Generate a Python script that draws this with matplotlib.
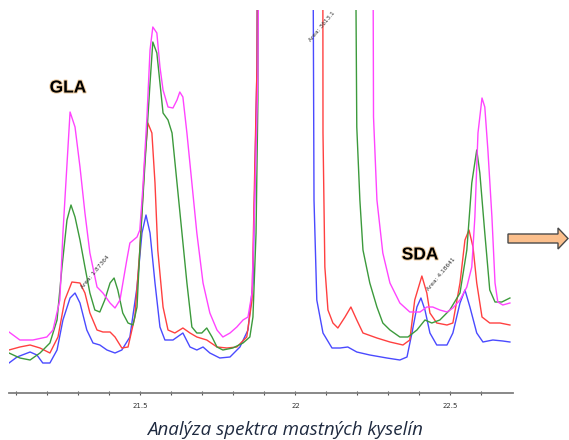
## Chromatogram overlay of four samples (GLA / SDA region)
import matplotlib
matplotlib.use("Agg")
import matplotlib.pyplot as plt
import matplotlib.patheffects as pe
from matplotlib.patches import FancyArrow

# retention time (min) and detector signal
magenta_x = [21.076, 21.111, 21.153, 21.198, 21.218, 21.240, 21.250, 21.273, 21.289, 21.305, 21.321, 21.337,
             21.360, 21.379, 21.402, 21.418, 21.434, 21.456, 21.466, 21.489, 21.498, 21.508, 21.521, 21.531,
             21.540, 21.553, 21.563, 21.573, 21.589, 21.605, 21.618, 21.627, 21.637, 21.650, 21.666, 21.682,
             21.702, 21.724, 21.747, 21.766, 21.789, 21.811, 21.831, 21.847, 21.860, 21.869, 21.879, 21.885,
             22.249, 22.252, 22.263, 22.282, 22.305, 22.337, 22.369, 22.402, 22.424, 22.443, 22.466, 22.489,
             22.508, 22.531, 22.553, 22.569, 22.579, 22.589, 22.602, 22.611, 22.621, 22.634, 22.644, 22.653,
             22.669, 22.692]
magenta_y = [61, 53, 53, 56, 63, 93, 160, 281, 266, 226, 180, 140,
             106, 100, 90, 85, 93, 133, 150, 156, 163, 206, 276, 343,
             366, 360, 326, 303, 286, 285, 293, 301, 296, 260, 210, 160,
             110, 80, 63, 56, 60, 66, 73, 76, 100, 193, 316, 600,
             600, 276, 193, 140, 110, 90, 81, 81, 86, 86, 83, 81,
             85, 93, 106, 126, 176, 260, 295, 286, 243, 176, 110, 91,
             88, 90]

green_x = [21.076, 21.111, 21.144, 21.176, 21.208, 21.231, 21.247, 21.263, 21.276, 21.289, 21.305, 21.321,
           21.337, 21.353, 21.369, 21.385, 21.402, 21.415, 21.427, 21.443, 21.460, 21.476, 21.489, 21.498,
           21.514, 21.531, 21.540, 21.553, 21.563, 21.573, 21.589, 21.602, 21.618, 21.634, 21.650, 21.666,
           21.682, 21.698, 21.714, 21.731, 21.747, 21.766, 21.798, 21.831, 21.853, 21.863, 21.873, 21.879,
           21.882, 22.191, 22.198, 22.208, 22.218, 22.240, 22.263, 22.282, 22.305, 22.337, 22.363, 22.392,
           22.418, 22.440, 22.466, 22.498, 22.531, 22.553, 22.569, 22.585, 22.595, 22.611, 22.627, 22.644,
           22.666, 22.692]
green_y = [40, 35, 33, 40, 50, 73, 126, 173, 188, 176, 153, 126,
           100, 83, 81, 93, 110, 115, 103, 80, 70, 68, 86, 143,
           226, 310, 351, 340, 310, 280, 273, 260, 210, 160, 110, 66,
           60, 60, 65, 56, 46, 43, 45, 50, 56, 76, 160, 293,
           600, 600, 266, 193, 143, 110, 86, 70, 63, 56, 56, 63,
           73, 70, 73, 83, 100, 143, 210, 243, 220, 160, 103, 91,
           91, 95]

red_x = [21.076, 21.111, 21.144, 21.176, 21.208, 21.234, 21.256, 21.279, 21.305, 21.321, 21.337, 21.360,
         21.379, 21.402, 21.418, 21.440, 21.460, 21.482, 21.498, 21.514, 21.524, 21.537, 21.547, 21.556,
         21.573, 21.589, 21.611, 21.637, 21.660, 21.682, 21.714, 21.747, 21.779, 21.811, 21.843, 21.860,
         21.869, 21.876, 21.880, 22.088, 22.089, 22.095, 22.105, 22.121, 22.137, 22.160, 22.179, 22.198,
         22.218, 22.263, 22.305, 22.347, 22.369, 22.385, 22.408, 22.424, 22.434, 22.456, 22.489, 22.508,
         22.531, 22.547, 22.560, 22.573, 22.585, 22.602, 22.627, 22.660, 22.692]
red_y = [43, 46, 48, 45, 40, 56, 93, 111, 110, 100, 80, 63,
         61, 61, 56, 45, 46, 76, 143, 233, 270, 260, 210, 143,
         86, 63, 60, 65, 60, 56, 53, 46, 45, 46, 56, 93,
         226, 326, 600, 600, 260, 126, 83, 70, 65, 76, 86, 73,
         60, 55, 51, 48, 53, 93, 117, 100, 80, 70, 68, 70,
         110, 153, 163, 146, 110, 76, 70, 70, 68]

blue_x = [21.076, 21.102, 21.144, 21.166, 21.185, 21.208, 21.231, 21.250, 21.273, 21.289, 21.305, 21.327,
          21.347, 21.369, 21.392, 21.418, 21.440, 21.466, 21.489, 21.505, 21.518, 21.531, 21.547, 21.563,
          21.579, 21.605, 21.637, 21.660, 21.682, 21.702, 21.724, 21.756, 21.789, 21.821, 21.847, 21.863,
          21.876, 21.879, 22.055, 22.060, 22.069, 22.089, 22.118, 22.144, 22.169, 22.198, 22.240, 22.295,
          22.337, 22.360, 22.376, 22.392, 22.405, 22.418, 22.434, 22.456, 22.489, 22.508, 22.531, 22.547,
          22.563, 22.585, 22.605, 22.637, 22.669, 22.692]
blue_y = [30, 36, 41, 38, 30, 30, 43, 73, 95, 100, 90, 63,
          50, 48, 43, 40, 43, 56, 106, 160, 178, 160, 110, 66,
          53, 53, 60, 46, 43, 46, 40, 35, 36, 46, 63, 110,
          326, 600, 600, 193, 93, 60, 45, 45, 46, 41, 38, 35,
          33, 36, 60, 86, 95, 83, 60, 48, 48, 60, 90, 103,
          86, 60, 51, 53, 52, 51]

tick_values = [21.5, 22, 22.5]
tick_labels = ["21.5", "22", "22.5"]
minor_ticks = [21.1, 21.2, 21.3, 21.4, 21.6, 21.7, 21.8, 21.9, 22.1, 22.2, 22.3, 22.4, 22.6]

W, H = 569, 440
fig = plt.figure(figsize=(W / 100, H / 100), dpi=100)
fig.patch.set_facecolor("white")

ax = fig.add_axes([9 / W, (H - 393) / H, 504 / W, 383 / H])
lw = 1.0
ax.plot(blue_x, blue_y, color="#4a4aff", lw=lw, solid_joinstyle="round")
ax.plot(red_x, red_y, color="#ff4040", lw=lw, solid_joinstyle="round")
ax.plot(green_x, green_y, color="#3c9a3c", lw=lw, solid_joinstyle="round")
ax.plot(magenta_x, magenta_y, color="#ff44ff", lw=lw, solid_joinstyle="round")

ax.set_xlim(21.076, 22.702)
ax.set_ylim(0, 383)
for s in ["top", "left", "right"]:
    ax.spines[s].set_visible(False)
ax.spines["bottom"].set_color("#7f7f7f")
ax.spines["bottom"].set_linewidth(1.3)
ax.set_yticks([])
ax.set_xticks(tick_values)
ax.set_xticklabels(tick_labels)
ax.set_xticks(minor_ticks, minor=True)
ax.tick_params(axis="x", which="both", direction="inout", length=3, width=0.8,
               color="#555555", labelsize=5, labelcolor="#333333", pad=6)

# overlay in pixel units for the annotations
ov = fig.add_axes([0, 0, 1, 1])
ov.set_xlim(0, W)
ov.set_ylim(H, 0)
ov.axis("off")

glow = [pe.withStroke(linewidth=1.4, foreground="#f2cfa2")]
ov.text(68, 88, "GLA", fontsize=12.5, fontweight="bold", family="Liberation Sans",
        ha="center", va="center", path_effects=glow)
ov.text(420, 255, "SDA", fontsize=12.5, fontweight="bold", family="Liberation Sans",
        ha="center", va="center", path_effects=glow)

small = dict(fontsize=4.2, rotation=50, ha="center", va="center", color="#333333")
ov.text(95, 272, "Area: 1.87364", **small)
ov.text(322, 27, "Area: 3613.1", **small)
ov.text(441, 274, "Area: 4.18641", **small)

ov.add_patch(FancyArrow(508, 238.5, 50, 0, width=9, head_width=21, head_length=10,
                        length_includes_head=False, facecolor="#fbbf8c",
                        edgecolor="#4a4a4a", linewidth=1))

ov.text(285, 430, "Analýza spektra mastných kyselín", fontsize=13.5, style="italic",
        family="Open Sans", color="#1f2a40", ha="center", va="center")

fig.savefig("out.png", dpi=100)
